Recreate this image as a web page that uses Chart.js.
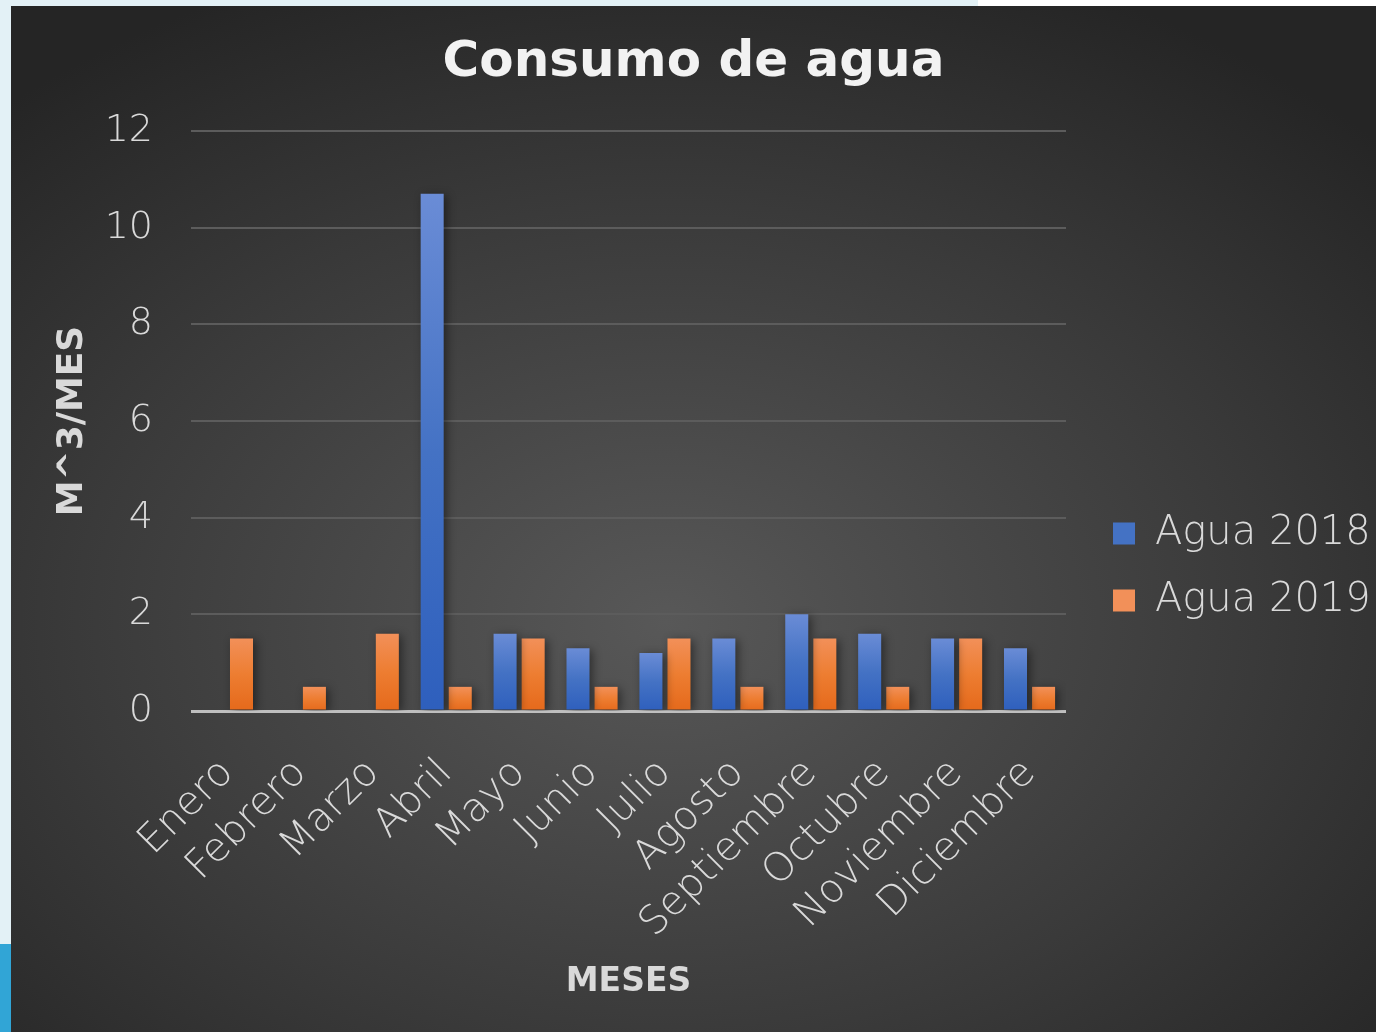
<!DOCTYPE html>
<html>
<head>
<meta charset="utf-8">
<script src="https://cdn.jsdelivr.net/npm/chart.js@4"></script>
<style>
  body { margin: 0; background: #e3f1f6; width: 1376px; height: 1032px; overflow: hidden; position: relative; }
  #topWhite { position: absolute; left: 978px; top: 0; width: 398px; height: 6px; background: #fff; }
  #blueTab { position: absolute; left: 0; top: 944px; width: 11px; height: 88px; background: #31a5d6; }
  #panel {
    position: absolute; left: 11px; top: 6px; width: 1365px; height: 1026px;
    background: radial-gradient(ellipse 72% 68% at 48% 60%, #585858 0%, #3a3a3a 60%, #252525 100%);
  }
</style>
</head>
<body>
<div id="topWhite"></div>
<div id="blueTab"></div>
<div id="panel"><canvas id="waterChart" width="1365" height="1026"></canvas></div>
<script>
const months = ['Enero', 'Febrero', 'Marzo', 'Abril', 'Mayo', 'Junio', 'Julio', 'Agosto', 'Septiembre', 'Octubre', 'Noviembre', 'Diciembre'];
const agua2018 = [0, 0, 0, 10.7, 1.6, 1.3, 1.2, 1.5, 2.0, 1.6, 1.5, 1.3];
const agua2019 = [1.5, 0.5, 1.6, 0.5, 1.5, 0.5, 1.5, 0.5, 1.5, 0.5, 1.5, 0.5];
const yTicks = [0, 2, 4, 6, 8, 10, 12];

const textColor = '#d9d9d9';
const lightFont = 'DejaVu Sans';

// per-bar vertical gradient, lighter at the top
function barFill(top, bottom, solid) {
    return (ctx) => {
        if (ctx.type !== 'data' || !ctx.chart.chartArea) return solid;
        const y = ctx.chart.scales.y;
        const y0 = y.getPixelForValue(0);
        const y1 = y.getPixelForValue(ctx.parsed.y);
        if (y0 === y1) return solid;
        const g = ctx.chart.ctx.createLinearGradient(0, y1, 0, y0);
        g.addColorStop(0, top);
        g.addColorStop(0.5, solid);
        g.addColorStop(1, bottom);
        return g;
    };
}

const barShadow = {
    id: 'barShadow',
    beforeDatasetsDraw(chart) {
        const c = chart.ctx;
        c.save();
        c.shadowColor = 'rgba(0,0,0,0.45)';
        c.shadowBlur = 10;
        c.shadowOffsetX = 3;
        c.shadowOffsetY = 2;
    },
    afterDatasetsDraw(chart) {
        chart.ctx.restore();
    }
};

// legend measures too narrow, give it a fixed column
const legendWidth = {
    id: 'legendWidth',
    beforeUpdate(chart) {
        const lg = chart.legend;
        if (lg && !lg._fixed) {
            const fit = lg.fit.bind(lg);
            lg.fit = function () { fit(); this.width = 290; };
            lg._fixed = true;
        }
    }
};

new Chart(document.getElementById('waterChart').getContext('2d'), {
    type: 'bar',
    data: {
        labels: months,
        datasets: [
            { label: 'Agua 2018', data: agua2018, backgroundColor: barFill('#6a8cd6', '#2e5fbd', '#4472c4') },
            { label: 'Agua 2019', data: agua2019, backgroundColor: barFill('#f29059', '#e5691b', '#ed7d31') }
        ]
    },
    plugins: [barShadow, legendWidth],
    options: {
        responsive: false,
        animation: false,
        categoryPercentage: 0.77,
        barPercentage: 0.82,
        layout: { padding: 0 },
        plugins: {
            title: {
                display: true,
                text: 'Consumo de agua',
                color: '#f2f2f2',
                font: { family: 'DejaVu Sans', size: 50, weight: 'bold' },
                padding: { top: 27, bottom: 38 }
            },
            legend: {
                position: 'right',
                title: { display: true, text: ' ', font: { size: 10 }, padding: { top: 0, bottom: 84 } },
                labels: {
                    color: textColor,
                    font: { family: lightFont, size: 40, weight: '300' },
                    boxWidth: 22,
                    boxHeight: 22,
                    padding: 27
                }
            },
            tooltip: { enabled: false }
        },
        scales: {
            x: {
                grid: { display: false },
                border: { display: false },
                ticks: {
                    color: textColor,
                    font: { family: lightFont, size: 40, weight: '300' },
                    maxRotation: 45,
                    minRotation: 45,
                    autoSkip: false,
                    padding: 31
                },
                title: {
                    display: true,
                    text: 'MESES',
                    color: textColor,
                    font: { family: 'DejaVu Sans', size: 33, weight: 'bold' },
                    padding: { top: 0, bottom: 30 }
                },
                afterFit: (s) => { s.height = 321; }
            },
            y: {
                min: 0,
                max: 12,
                afterBuildTicks: (s) => { s.ticks = yTicks.map(v => ({ value: v })); },
                grid: {
                    drawTicks: false,
                    color: (c) => c.tick && c.tick.value === 0 ? '#bfbfbf' : '#5c5c5c',
                    lineWidth: (c) => c.tick && c.tick.value === 0 ? 3 : 2
                },
                border: { display: false },
                ticks: {
                    color: textColor,
                    font: { family: lightFont, size: 38, weight: '300' },
                    padding: 38
                },
                title: {
                    display: true,
                    text: 'M^3/MES',
                    color: textColor,
                    font: { family: 'DejaVu Sans', size: 36, weight: 'bold' },
                    padding: { top: 40, bottom: 0 }
                },
                afterFit: (s) => { s.width = 180; }
            },
            yr: {
                type: 'linear',
                position: 'right',
                axis: 'y',
                grid: { display: false },
                border: { display: false },
                ticks: { display: false },
                afterFit: (s) => { s.width = 20; }
            }
        }
    }
});
</script>
</body>
</html>
